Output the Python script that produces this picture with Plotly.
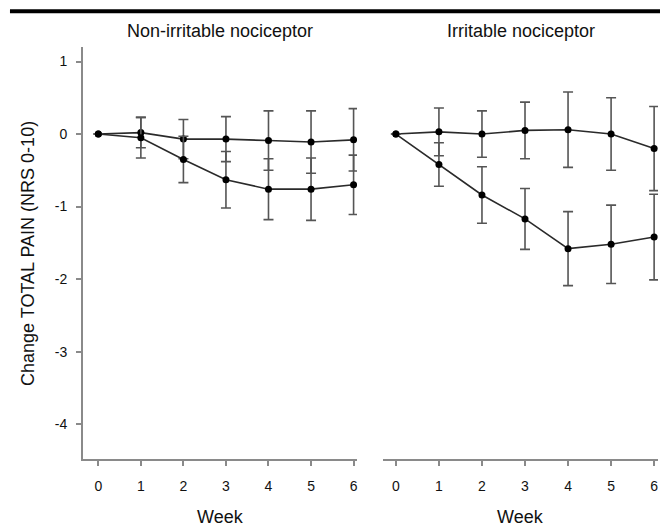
import plotly.graph_objects as go

weeks = [0, 1, 2, 3, 4, 5, 6]
week_ticks = ["0", "1", "2", "3", "4", "5", "6"]

# Non-irritable nociceptor
nonirr_a = [0, 0.02, -0.07, -0.07, -0.09, -0.11, -0.08]
nonirr_a_err = [None, 0.21, 0.27, 0.31, 0.41, 0.43, 0.43]
nonirr_b = [0, -0.05, -0.35, -0.63, -0.76, -0.76, -0.70]
nonirr_b_err = [None, 0.28, 0.32, 0.39, 0.42, 0.43, 0.41]

# Irritable nociceptor
irr_a = [0, 0.03, 0.0, 0.05, 0.06, 0.0, -0.20]
irr_a_err = [None, 0.33, 0.32, 0.39, 0.52, 0.50, 0.58]
irr_b = [0, -0.42, -0.84, -1.17, -1.58, -1.52, -1.42]
irr_b_err = [None, 0.30, 0.39, 0.42, 0.51, 0.54, 0.59]

y_ticks = [1, 0, -1, -2, -3, -4]
y_tick_labels = ["1", "0", "-1", "-2", "-3", "-4"]

FONT = "Liberation Sans, Arial, sans-serif"
LINE = "#2a2a2a"
ERR = "#555555"
AX = "#8a8a8a"

fig = go.Figure()

def add(y, err, xa, ya):
    fig.add_trace(go.Scatter(
        x=weeks, y=y, xaxis=xa, yaxis=ya, mode="lines+markers",
        line=dict(color=LINE, width=1.6),
        marker=dict(color="#000000", size=7),
        error_y=dict(type="data", array=err, symmetric=True,
                     color=ERR, thickness=1.6, width=5),
        showlegend=False, hoverinfo="skip"))

add(nonirr_a, nonirr_a_err, "x", "y")
add(nonirr_b, nonirr_b_err, "x", "y")
add(irr_a, irr_a_err, "x2", "y2")
add(irr_b, irr_b_err, "x2", "y2")

xcommon = dict(tickmode="array", tickvals=weeks, ticktext=week_ticks,
               showline=True, linecolor=AX, linewidth=2,
               ticks="outside", ticklen=5, tickwidth=1.5, tickcolor=AX,
               showgrid=False, zeroline=False,
               tickfont=dict(family=FONT, size=14, color="#111"),
               ticklabelstandoff=8)

# page body has an 8px margin, so the figure is sized to the remaining area
fig.update_layout(
    width=660, height=519,
    margin=dict(l=75, r=10, t=39, b=68),
    paper_bgcolor="white", plot_bgcolor="white",
    xaxis=dict(domain=[0, 0.4765], range=[-0.36, 6.08], anchor="y", **xcommon),
    xaxis2=dict(domain=[0.5217, 1], range=[-0.3, 6.09], anchor="y2", **xcommon),
    yaxis=dict(range=[-4.48, 1.2], tickmode="array", tickvals=y_ticks,
               ticktext=y_tick_labels,
               showline=True, linecolor=AX, linewidth=2,
               ticks="outside", ticklen=5, tickwidth=1.5, tickcolor=AX,
               showgrid=False, zeroline=False,
               tickfont=dict(family=FONT, size=14, color="#111"),
               ticklabelstandoff=6, anchor="x"),
    yaxis2=dict(range=[-4.48, 1.2], anchor="x2", showline=False,
                showticklabels=False, ticks="", showgrid=False, zeroline=False),
)

ann = dict(xref="paper", yref="paper", showarrow=False,
           font=dict(family=FONT, size=18, color="#111"))
fig.add_annotation(text="Non-irritable nociceptor", x=0.2383, y=1.039,
                   xanchor="center", yanchor="middle", **ann)
fig.add_annotation(text="Irritable nociceptor", x=0.7609, y=1.039,
                   xanchor="center", yanchor="middle", **ann)
fig.add_annotation(text="Week", x=0.2383, y=-0.141,
                   xanchor="center", yanchor="middle", **ann)
fig.add_annotation(text="Week", x=0.7609, y=-0.141,
                   xanchor="center", yanchor="middle", **ann)
fig.add_annotation(text="Change TOTAL PAIN (NRS 0-10)", x=-0.0957, y=0.5,
                   xanchor="center", yanchor="middle", textangle=-90, **ann)

fig.add_shape(type="line", xref="paper", yref="paper",
              x0=-0.127, x1=1.02, y0=1.087, y1=1.087,
              line=dict(color="#000", width=4))

fig.write_html("out.html")
